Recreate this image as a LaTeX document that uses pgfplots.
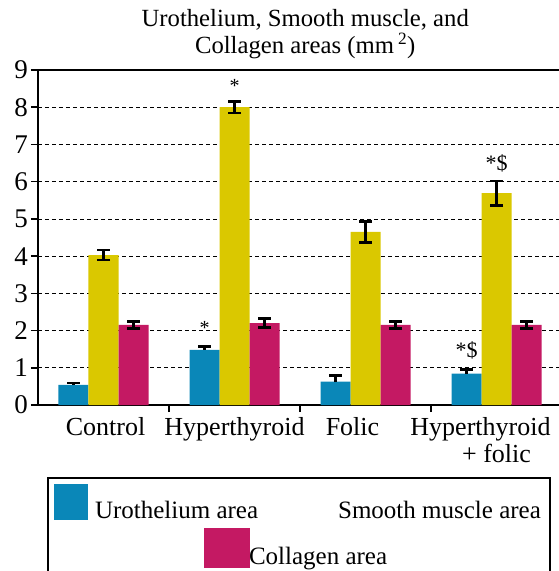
\documentclass[border=0pt]{standalone}
\usepackage{pgfplots}
\pgfplotsset{compat=1.18}
\usepackage{fontspec}
\setmainfont{Liberation Serif}
\definecolor{uro}{RGB}{10,135,184}
\definecolor{smo}{RGB}{218,200,0}
\definecolor{col}{RGB}{196,25,99}
\pgfplotsset{myerr/.style={
  error bars/.cd, y dir=#1, y explicit,
  error bar style={draw=black, solid, line width=2.5pt},
  error mark options={draw=black, solid, line width=2.5pt, mark size=6.5pt, rotate=90}}}
\begin{document}
\begin{tikzpicture}
\begin{axis}[
  at={(38pt,-405pt)}, anchor=south west,
  scale only axis, width=524pt, height=335pt,
  xmin=-0.5, xmax=3.5, ymin=0, ymax=9,
  ybar=0pt, bar width=30pt,
  axis line style={line width=2.2pt},
  tick align=outside, xtick pos=bottom, ytick pos=left,
  major tick length=7pt,
  tick style={line width=1.5pt, black},
  ytick={0,1,2,3,4,5,6,7,8,9},
  /pgf/number format/assume math mode=true,
  yticklabel style={font=\fontsize{27}{27}\selectfont, inner sep=3pt},
  xtick={0.5,1.5,2.5}, xticklabels={},
  extra x ticks={0,1,2,3},
  extra x tick labels={{\hspace*{4pt}Control}, Hyperthyroid, {Folic\rule{26pt}{0pt}}, {Hyperthyroid\rule{32pt}{0pt}\\+ folic}},
  extra x tick style={tick style={draw=none}, major tick length=0pt,
    xticklabel style={font=\fontsize{26}{27}\selectfont, align=center, inner sep=0pt, anchor=north, yshift=-12pt}},
  ymajorgrids, grid style={black, line width=0.8pt, dash pattern=on 4pt off 3pt},
  title={Urothelium, Smooth muscle, and\\Collagen areas (mm\,\textsuperscript{2})},
  title style={font=\fontsize{24.7}{27}\selectfont, align=center, inner sep=0pt, at={(0.51,1)}, anchor=south, yshift=5pt},
  legend columns=2,
  legend cell align=left,
  legend style={at={(0.0172,-0.2149)}, anchor=north west, draw=black, line width=2pt,
    font=\fontsize{25}{25}\selectfont, inner xsep=6pt, inner ysep=6pt,
    nodes={inner sep=3pt}, row sep=21pt,
    /tikz/every odd column/.append style={column sep=4pt},
    /tikz/every even column/.append style={column sep=70pt}},
]
\addplot[fill=uro, draw=none,
  legend image code/.code={\fill[uro] (0pt,-9pt) rectangle (34pt,27pt);},
  myerr=plus]
  coordinates {(0,0.54) +- (0,0.05) (1,1.48) +- (0,0.09) (2,0.63) +- (0,0.16) (3,0.84) +- (0,0.12)};
\addplot[fill=smo, draw=none,
  legend image code/.code={},
  myerr=both]
  coordinates {(0,4.03) +- (0,0.14) (1,8.00) +- (0,0.15) (2,4.65) +- (0,0.28) (3,5.69) +- (0,0.33)};
\addplot[fill=col, draw=none,
  legend image code/.code={\pgfinterruptboundingbox\fill[col] (150pt,-11pt) rectangle ++(46pt,40pt);\endpgfinterruptboundingbox},
  myerr=both]
  coordinates {(0,2.15) +- (0,0.10) (1,2.20) +- (0,0.12) (2,2.15) +- (0,0.10) (3,2.15) +- (0,0.10)};
\addlegendentry{Urothelium area}
\addlegendentry{Smooth muscle area}
\addlegendentry{\hspace*{154pt}\rlap{Collagen area}\rule[-30pt]{0pt}{0pt}}
\node[font=\fontsize{20}{20}\selectfont, yshift=-2.5pt] at (axis cs:0.771,2.15) {*};
\node[font=\fontsize{20}{20}\selectfont, yshift=-2.5pt] at (axis cs:1,8.64) {*};
\node[font=\fontsize{22}{22}\selectfont] at (axis cs:2.771,1.48) {*\$};
\node[font=\fontsize{22}{22}\selectfont] at (axis cs:3,6.48) {*\$};
\end{axis}
\pgfresetboundingbox
\path (0pt,0pt) rectangle (558pt,-571pt);
\end{tikzpicture}
\end{document}
